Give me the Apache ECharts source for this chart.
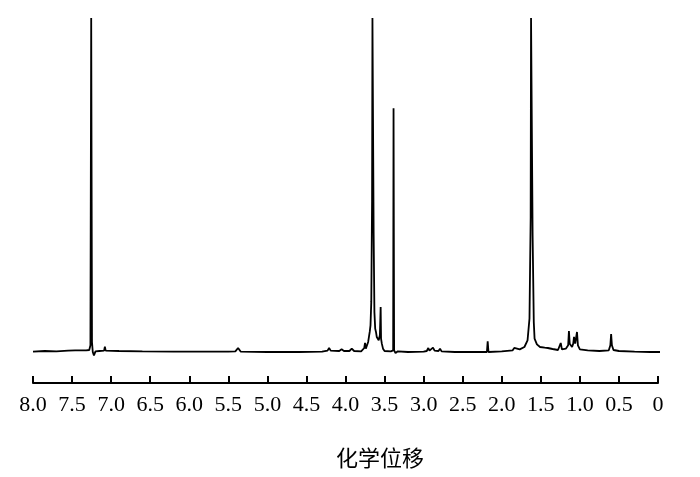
<!DOCTYPE html>
<html>
<head>
<meta charset="utf-8">
<script src="https://cdn.jsdelivr.net/npm/echarts@6/dist/echarts.min.js"></script>
<style>html,body{margin:0;padding:0;background:#fff}#c{width:700px;height:477px}</style>
</head>
<body>
<div id="c"></div>
<script>
// Chemical shift (ppm) and relative intensity
var shiftPpm = [8.00,7.85,7.70,7.55,7.46,7.44,7.42,7.32,7.28,7.265,7.255,7.245,7.235,7.22,7.20,7.15,7.09,7.08,7.07,6.90,6.60,6.20,5.80,5.50,5.41,5.375,5.34,5.00,4.60,4.30,4.23,4.21,4.19,4.08,4.05,4.02,3.95,3.92,3.89,3.80,3.76,3.75,3.74,3.71,3.69,3.68,3.67,3.66,3.655,3.645,3.64,3.63,3.62,3.61,3.60,3.585,3.575,3.56,3.55,3.545,3.535,3.52,3.50,3.42,3.39,3.385,3.378,3.36,3.33,3.20,3.00,2.96,2.94,2.925,2.90,2.88,2.86,2.81,2.79,2.77,2.60,2.40,2.19,2.18,2.17,2.00,1.86,1.84,1.82,1.77,1.71,1.67,1.645,1.63,1.625,1.615,1.605,1.59,1.58,1.55,1.51,1.45,1.41,1.35,1.28,1.26,1.245,1.23,1.18,1.15,1.14,1.13,1.10,1.085,1.075,1.06,1.045,1.037,1.025,1.00,0.90,0.75,0.63,0.61,0.60,0.59,0.57,0.50,0.30,0.10,-0.07];
var intensity = [0.1,0.3,0.2,0.4,0.5,1.0,0.5,0.5,0.6,2,100,3,0,-1.0,0.2,0.3,0.4,1.6,0.4,0.3,0.2,0.1,0.1,0.1,0.2,1.2,0.1,0,0,0.1,0.4,1.2,0.4,0.3,0.8,0.3,0.3,1.0,0.3,0.2,1.2,2.7,1.0,3,6,8,15,45,100,100,36,12,7,6,4.5,5,3.5,5,13.5,4,2.5,1,0.3,0.2,0.5,73,0.5,-0.3,0.2,0,0.1,0.3,1.2,0.4,0.5,1.3,0.4,0.3,1.0,0.2,0,0,0,3.2,0,0.2,0.5,1.2,0.7,0.8,1.5,3.5,10,40,100,100,35,9,4,2.3,1.5,1.3,1.2,0.9,0.6,0.8,2.7,0.8,1.0,2,6.3,2.5,1.5,2.5,4.5,2.5,3,6,2,0.8,0.5,0.3,0.5,2,5.4,2,0.6,0.3,0.1,0,0];
var axisTitle = '化学位移';

var chart = echarts.init(document.getElementById('c'), null, {renderer: 'canvas'});
var data = shiftPpm.map(function (p, i) { return [p, intensity[i]]; });
chart.setOption({
  animation: false,
  backgroundColor: '#ffffff',
  grid: {left: 33, right: 42, top: 18, bottom: 94},
  xAxis: {
    type: 'value', inverse: true, min: 0, max: 8, interval: 0.5,
    axisLine: {show: true, onZero: false, lineStyle: {color: '#000', width: 2}},
    axisTick: {show: true, inside: true, length: 7, lineStyle: {color: '#000', width: 2}},
    splitLine: {show: false},
    axisLabel: {
      color: '#000', fontFamily: 'Liberation Serif', fontSize: 22, margin: 11,
      formatter: function (v) { return v === 0 ? '0' : v.toFixed(1); }
    }
  },
  yAxis: {type: 'value', min: -9.28, max: 100, show: false},
  graphic: [{
    type: 'text', left: 336, top: 447,
    style: {text: axisTitle, fill: '#000', font: '22px "Noto Sans CJK SC"'}
  }],
  series: [{
    type: 'line', data: data, showSymbol: false, clip: false,
    lineStyle: {color: '#000', width: 1.8}
  }]
});
</script>
</body>
</html>
